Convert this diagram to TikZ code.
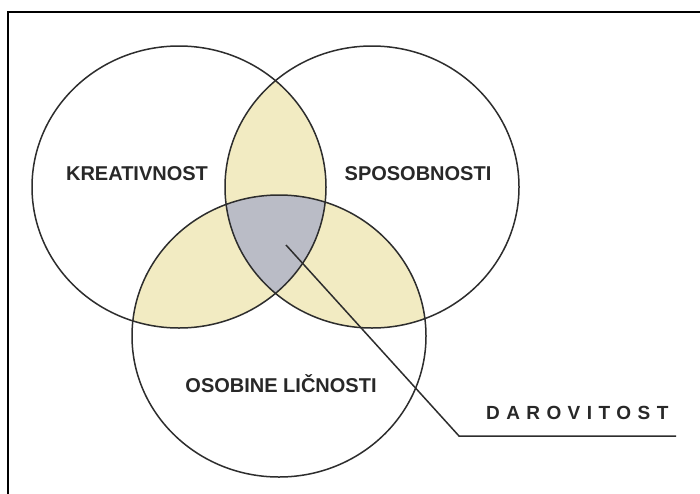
\documentclass[tikz,border=0pt]{standalone}
\usepackage{fontspec}
\setmainfont{Liberation Sans}
\definecolor{lensY}{RGB}{242,235,194}
\definecolor{coreG}{RGB}{186,188,198}
\definecolor{inkD}{RGB}{45,45,45}
\definecolor{txtD}{RGB}{40,40,40}
\newcommand{\lsp}{\kern6.4pt}
\begin{document}
\begin{tikzpicture}[x=1pt,y=-1pt,
  ring/.style={draw=inkD,line width=1.5pt},
  frameline/.style={draw=black,line width=2pt},
  lbl/.style={font=\fontsize{20}{24}\selectfont\bfseries,text=txtD,inner sep=0pt,anchor=base},
  tag/.style={font=\fontsize{19}{23}\selectfont\bfseries,text=txtD,inner sep=0pt,anchor=base west},
  leader/.style={draw=inkD,line width=1.5pt,line join=miter}]
\useasboundingbox (0,0) rectangle (700,493);
\fill[white] (0,0) rectangle (700,493);
% frame (cut off at right and bottom)
\coordinate (fbl) at (8,494);
\coordinate (ftl) at (8,12);
\coordinate (ftr) at (701,12);
\draw[frameline] (fbl) -- (ftl) -- (ftr);
% ellipse centres
\coordinate (L) at (179,187);
\coordinate (R) at (372,187);
\coordinate (B) at (279,336);
\def\ea{147pt}
\def\eb{141pt}
% pairwise overlaps
\begin{scope}
  \clip (L) ellipse[x radius=\ea,y radius=\eb];
  \fill[lensY] (R) ellipse[x radius=\ea,y radius=\eb];
  \fill[lensY] (B) ellipse[x radius=\ea,y radius=\eb];
\end{scope}
\begin{scope}
  \clip (R) ellipse[x radius=\ea,y radius=\eb];
  \fill[lensY] (B) ellipse[x radius=\ea,y radius=\eb];
\end{scope}
% triple overlap
\begin{scope}
  \clip (L) ellipse[x radius=\ea,y radius=\eb];
  \clip (R) ellipse[x radius=\ea,y radius=\eb];
  \fill[coreG] (B) ellipse[x radius=\ea,y radius=\eb];
\end{scope}
% outlines
\draw[ring] (L) ellipse[x radius=\ea,y radius=\eb];
\draw[ring] (R) ellipse[x radius=\ea,y radius=\eb];
\draw[ring] (B) ellipse[x radius=\ea,y radius=\eb];
% labels
\node[lbl] (kre) at (137,180) {KREATIVNOST};
\node[lbl] (spo) at (418,180) {SPOSOBNOSTI};
\node[lbl] (oso) at (281,392) {OSOBINE LIČNOSTI};
\node[tag] (dar) at (486,419) {D\lsp A\lsp R\lsp O\lsp V\lsp I\lsp T\lsp O\lsp S\lsp T};
% leader line
\coordinate (p) at (286,245);
\coordinate (q) at (459,436);
\coordinate (e) at (676,436);
\draw[leader] (p) -- (q) -- (e);
\end{tikzpicture}
\end{document}
